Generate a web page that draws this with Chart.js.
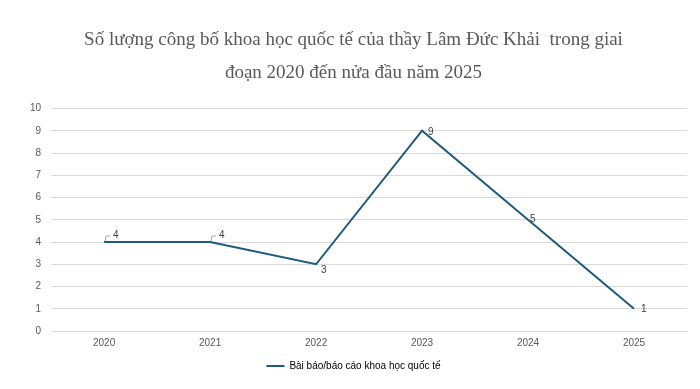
<!DOCTYPE html>
<html>
<head>
<meta charset="utf-8">
<script src="https://cdn.jsdelivr.net/npm/chart.js@4/dist/chart.umd.min.js"></script>
<style>
  html, body { margin: 0; padding: 0; background: #fff; }
  #wrap { width: 700px; height: 389px; }
</style>
</head>
<body>
<div id="wrap"><canvas id="chart"></canvas></div>
<script>
// Data
const years = ['2020', '2021', '2022', '2023', '2024', '2025'];
const papers = [4, 4, 3, 9, 5, 1];
const seriesName = 'Bài báo/báo cáo khoa học quốc tế';
const titleLines = [
  'Số lượng công bố khoa học quốc tế của thầy Lâm Đức Khải  trong giai',
  'đoạn 2020 đến nửa đầu năm 2025'
];
const yTicks = [0, 1, 2, 3, 4, 5, 6, 7, 8, 9, 10];

const lineColor = '#1d5b7d';

// value labels to the right of each point (with small leader for the first two)
const valueLabels = {
  id: 'valueLabels',
  afterDatasetsDraw(chart) {
    const ctx = chart.ctx;
    const meta = chart.getDatasetMeta(0);
    ctx.save();
    ctx.font = '10px "Liberation Sans", Arial, sans-serif';
    ctx.fillStyle = '#404040';
    ctx.textBaseline = 'middle';
    meta.data.forEach((pt, i) => {
      const v = papers[i];
      let x = pt.x + 5, y = pt.y + 6;
      if (i === 0 || i === 1) {
        // callout leader
        ctx.strokeStyle = '#a6a6a6';
        ctx.lineWidth = 1;
        ctx.beginPath();
        ctx.moveTo(pt.x + 1, pt.y - 1);
        ctx.lineTo(pt.x + 2, pt.y - 6);
        ctx.lineTo(pt.x + 6, pt.y - 6);
        ctx.stroke();
        x = pt.x + 9; y = pt.y - 7;
      } else if (i === 3) {
        x = pt.x + 6; y = pt.y + 1;
      } else if (i === 4) {
        x = pt.x + 2; y = pt.y - 1;
      } else if (i === 5) {
        x = pt.x + 7; y = pt.y;
      }
      ctx.fillText(String(v), x, y);
    });
    ctx.restore();
  }
};

new Chart(document.getElementById('chart'), {
  type: 'line',
  data: {
    labels: years,
    datasets: [{
      label: seriesName,
      data: papers,
      borderColor: lineColor,
      backgroundColor: lineColor,
      borderWidth: 2,
      pointRadius: 0,
      tension: 0
    }]
  },
  options: {
    responsive: true,
    maintainAspectRatio: false,
    animation: false,
    layout: { padding: { left: 20, right: 13, top: 15, bottom: 8 } },
    plugins: {
      title: {
        display: true,
        text: titleLines,
        color: '#595959',
        font: { family: '"Liberation Serif", "DejaVu Serif", serif', size: 19, weight: 'normal', lineHeight: 1.75 },
        padding: { top: 8, bottom: 19 }
      },
      legend: {
        position: 'bottom',
        labels: {
          color: '#595959',
          font: { family: '"Liberation Sans", Arial, sans-serif', size: 10 },
          boxWidth: 18,
          boxHeight: 2,
          padding: 6,
          generateLabels(chart) {
            return [{
              text: seriesName,
              fillStyle: lineColor,
              strokeStyle: lineColor,
              lineWidth: 0,
              datasetIndex: 0
            }];
          }
        }
      },
      tooltip: { enabled: false }
    },
    scales: {
      x: {
        offset: true,
        grid: { display: false, drawTicks: false },
        border: { color: '#d9d9d9' },
        ticks: {
          color: '#595959',
          font: { family: '"Liberation Sans", Arial, sans-serif', size: 10 },
          padding: 6
        }
      },
      y: {
        min: 0,
        max: 10,
        afterBuildTicks(axis) { axis.ticks = yTicks.map(v => ({ value: v })); },
        grid: { color: '#d9d9d9', drawTicks: false },
        border: { display: false },
        ticks: {
          color: '#595959',
          font: { family: '"Liberation Sans", Arial, sans-serif', size: 10 },
          padding: 10
        }
      }
    }
  },
  plugins: [valueLabels]
});
</script>
</body>
</html>
